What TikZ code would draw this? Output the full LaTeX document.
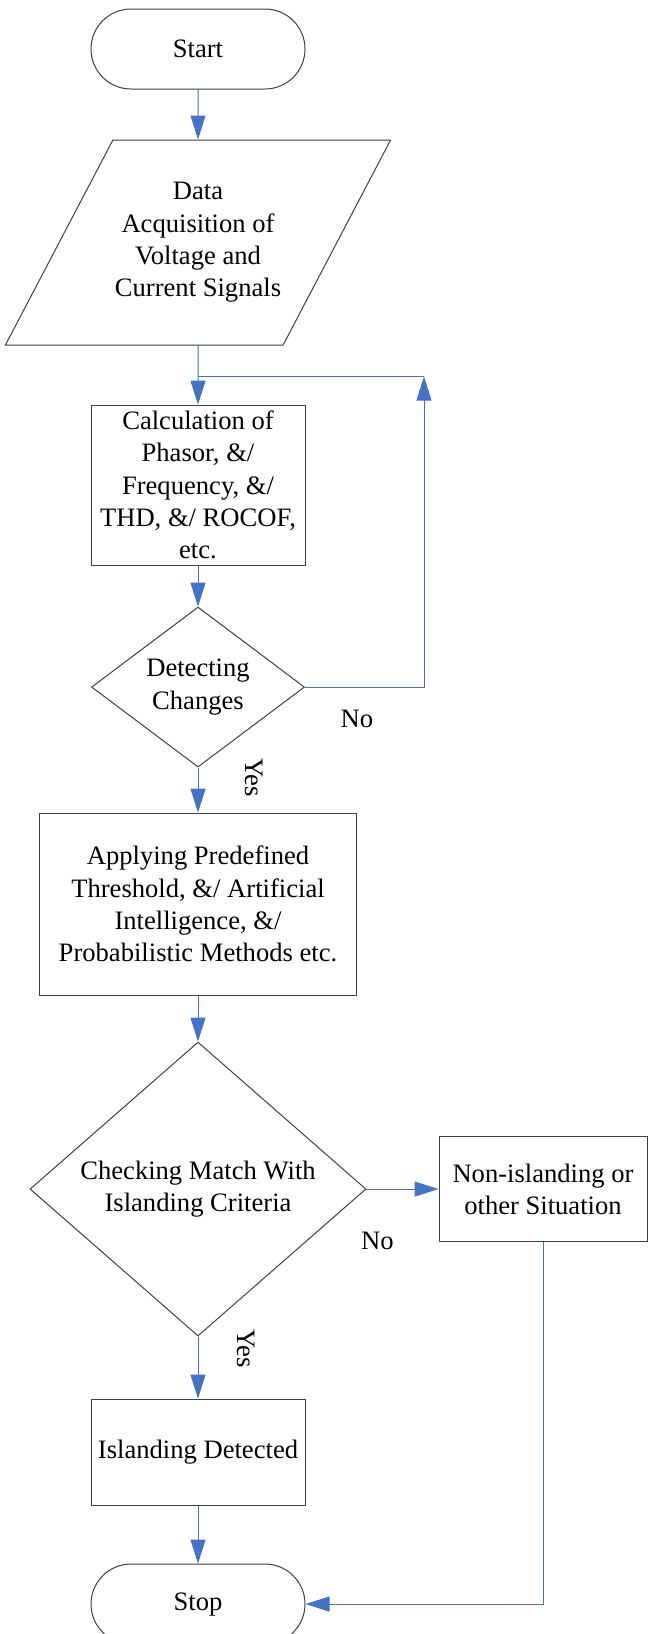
\documentclass[tikz,border=0pt]{standalone}
\usepackage{fontspec}
\setmainfont{Liberation Serif}
\usetikzlibrary{positioning,calc,shapes.geometric,arrows.meta}

\definecolor{flowblue}{HTML}{4472C4}
\definecolor{boxline}{HTML}{404040}

\tikzset{
  every node/.style = {font=\fontsize{13.3}{16.15}\selectfont, align=center},
  terminal/.style = {draw=boxline, line width=0.5pt, rectangle, rounded corners=20pt,
    minimum width=107pt, minimum height=40pt, inner sep=1pt},
  inout/.style = {draw=boxline, line width=0.5pt, trapezium, trapezium left angle=49.1,
    trapezium right angle=130.9, trapezium stretches body, minimum width=192pt,
    minimum height=102.5pt, inner sep=1pt},
  process/.style = {draw=boxline, line width=0.5pt, rectangle, inner sep=1pt},
  decision/.style = {draw=boxline, line width=0.5pt, diamond, inner sep=0pt},
  flow/.style = {draw=flowblue, line width=0.5pt, -{Triangle[length=12pt, width=7.5pt]}},
  link/.style = {draw=flowblue, line width=0.5pt},
}

\begin{document}
\begin{tikzpicture}
    \useasboundingbox (0,0) rectangle (324pt,-817pt);

    \node[terminal] (start) at (99pt,-24.5pt) {Start};
    \node[inout, below = 25pt of start] (data) {Data\\Acquisition of\\Voltage and\\Current Signals};
    \node[process, below = 29.5pt of data, minimum width=107pt, minimum height=80pt] (calc)
      {Calculation of\\Phasor, \&/\\Frequency, \&/\\THD, \&/ ROCOF,\\etc.};
    \node[decision, below = 20.5pt of calc, minimum width=106.5pt, minimum height=80pt] (detect)
      {Detecting\\Changes};
    \node[process, below = 22.5pt of detect, minimum width=158.5pt, minimum height=91pt] (apply)
      {Applying Predefined\\Threshold, \&/ Artificial\\Intelligence, \&/\\Probabilistic Methods etc.};
    \node[decision, below = 23pt of apply, minimum width=168pt, minimum height=147pt] (check)
      {Checking Match With\\Islanding Criteria};
    \node[process, right = 36pt of check, minimum width=104pt, minimum height=52.5pt] (other)
      {Non-islanding or\\other Situation};
    \node[process, below = 31pt of check, minimum width=107pt, minimum height=53pt] (island)
      {Islanding Detected};
    \node[terminal, below = 29pt of island] (stop) {Stop};

    \coordinate (join) at ($(data.south)+(0,-15.5pt)$);
    \coordinate (loop) at ($(detect.east)+(59.5pt,0)$);
    \coordinate (looptop) at (loop |- join);

    \node (no1) at ($(detect.east)+(26pt,-16pt)$) {No};
    \node[rotate=-90] (yes1) at ($(detect.south)+(28pt,-5pt)$) {Yes};
    \node (no2) at ($(check.east)+(5.5pt,-26pt)$) {No};
    \node[rotate=-90] (yes2) at ($(check.south)+(24pt,-6pt)$) {Yes};

    \draw[flow] (start) -- (data);
    \draw[flow] (data) -- (calc);
    \draw[flow] (calc) -- (detect);
    \draw[flow] (detect.east) -| (looptop);
    \draw[link] (looptop) -- (join);
    \draw[flow] (detect) -- (apply);
    \draw[flow] (apply) -- (check);
    \draw[flow] (check) -- (other);
    \draw[flow] (check) -- (island);
    \draw[flow] (island) -- (stop);
    \draw[flow] (other) |- (stop);
\end{tikzpicture}
\end{document}
